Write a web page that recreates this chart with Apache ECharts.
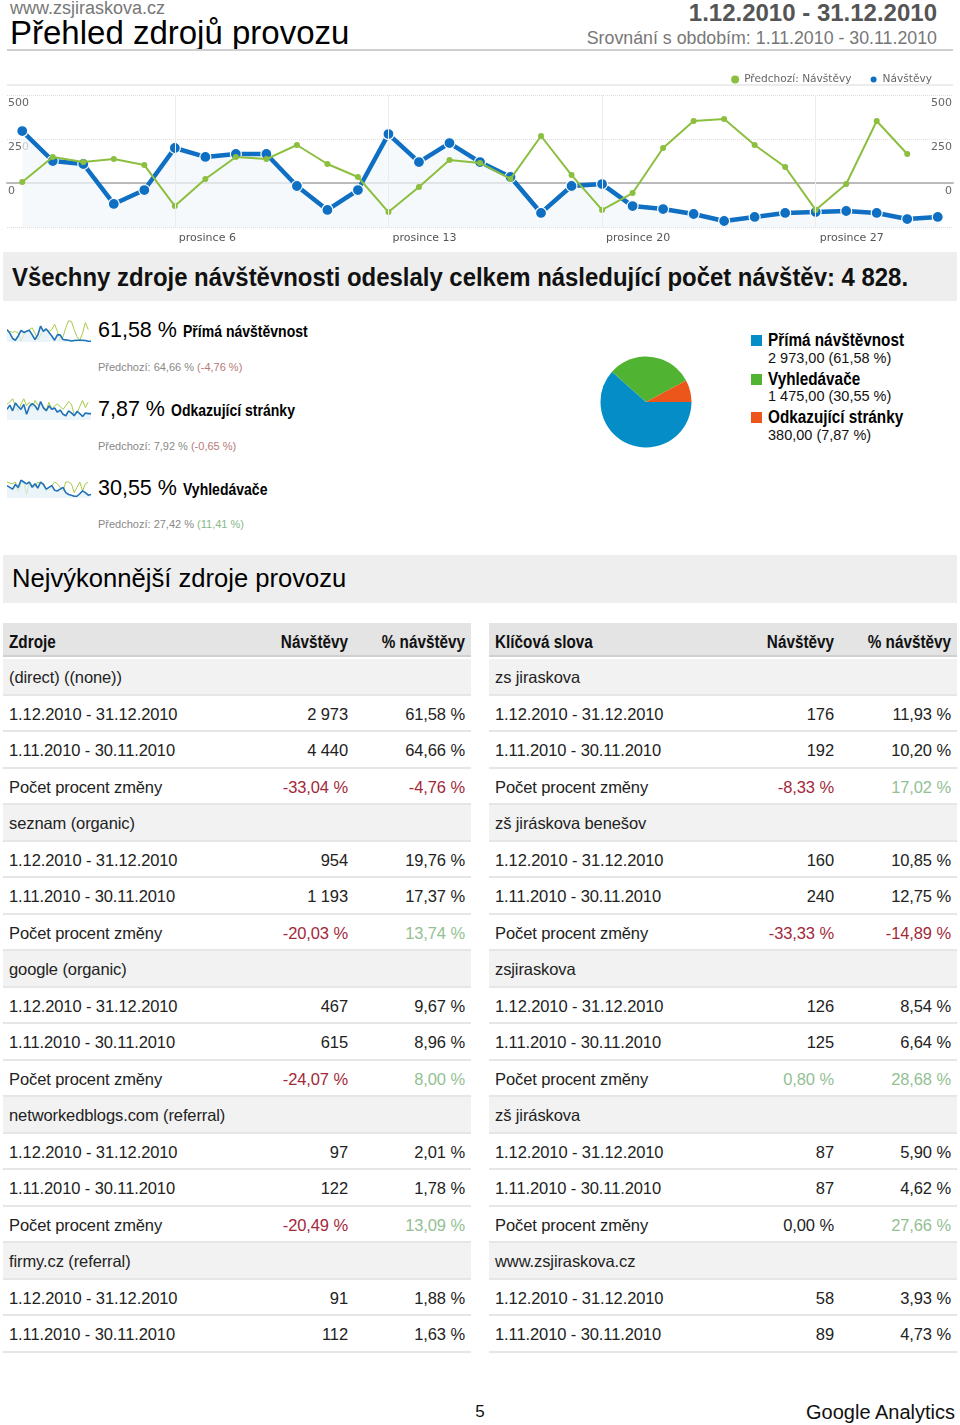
<!DOCTYPE html>
<html><head><meta charset="utf-8">
<script src="https://cdn.jsdelivr.net/npm/echarts/dist/echarts.min.js"></script>
<style>
html,body{margin:0;padding:0;background:#fff;}
body{width:960px;height:1425px;position:relative;overflow:hidden;font-family:"Liberation Sans",Arial,sans-serif;color:#111;}
.a{position:absolute;white-space:nowrap;line-height:1;}
.nb{font-family:"Liberation Sans Narrow","Liberation Sans",sans-serif;font-weight:bold;display:inline-block;transform:scaleX(0.85);transform-origin:left center;}
.nbr{transform-origin:right center;}
.prev{font-size:11px;color:#888;}
.neg{color:#a3283a;}
.pos{color:#93bf93;}
.tbl{position:absolute;}
.row{position:absolute;left:0;right:0;height:36.5px;line-height:36.5px;font-size:16.5px;letter-spacing:-0.1px;color:#222;box-sizing:border-box;border-bottom:2px solid #e6e6e6;}
.row.grp{background:#f2f2f2;}
.row.hdr{background:#e4e4e4;height:34px;line-height:38px;font-size:18px;letter-spacing:0;color:#111;border-bottom:2px solid #d0d0d0;}
.c{position:absolute;top:0;}
</style></head>
<body>
<div class="a" style="left:10px;top:-0.4px;font-size:18px;line-height:16px;color:#777;">www.zsjiraskova.cz</div>
<div class="a" style="left:10px;top:18.4px;font-size:33px;line-height:30px;color:#000;">Přehled zdrojů provozu</div>
<div class="a" style="right:23px;top:1px;font-size:24px;font-weight:bold;color:#555;">1.12.2010 - 31.12.2010</div>
<div class="a" style="right:23px;top:30px;font-size:17.8px;color:#777;">Srovnání s obdobím: 1.11.2010 - 30.11.2010</div>
<div class="a" style="left:7px;top:49px;width:946px;height:2px;background:#cfcfcf;"></div>

<div id="main" class="a" style="left:0;top:60px;width:960px;height:190px;"></div>

<div class="a" style="left:3px;top:252px;width:954px;height:49px;background:#eeeeee;"></div>
<div class="a" style="left:12px;top:264px;font-size:26px;font-weight:bold;transform:scaleX(0.92);transform-origin:left center;">Všechny zdroje návštěvnosti odeslaly celkem následující počet návštěv: 4 828.</div>

<div id="sp0" class="a" style="left:7px;top:319px;width:84px;height:24px;"></div>
<div id="sp1" class="a" style="left:7px;top:397px;width:84px;height:24px;"></div>
<div id="sp2" class="a" style="left:7px;top:475px;width:84px;height:24px;"></div>
<div id="kpis"></div>

<div id="pie" class="a" style="left:598px;top:354px;width:96px;height:96px;"></div>
<div id="pieLegend"></div>

<div class="a" style="left:3px;top:555px;width:954px;height:48px;background:#eeeeee;"></div>
<div class="a" style="left:12px;top:566px;font-size:25.6px;color:#000;">Nejvýkonnější zdroje provozu</div>

<div id="tL" class="tbl" style="left:3px;top:623px;width:468px;"></div>
<div id="tR" class="tbl" style="left:489px;top:623px;width:468px;"></div>

<div class="a" style="left:470px;top:1403px;width:20px;text-align:center;font-size:17px;color:#111;">5</div>
<div class="a" style="right:5px;top:1401.5px;font-size:20px;color:#111;">Google Analytics</div>

<script>
// ---------- main line chart data ----------
const days = ['prosince 1','prosince 2','prosince 3','prosince 4','prosince 5','prosince 6','prosince 7','prosince 8','prosince 9','prosince 10','prosince 11','prosince 12','prosince 13','prosince 14','prosince 15','prosince 16','prosince 17','prosince 18','prosince 19','prosince 20','prosince 21','prosince 22','prosince 23','prosince 24','prosince 25','prosince 26','prosince 27','prosince 28','prosince 29','prosince 30','prosince 31'];
const tickDays = ['prosince 6','prosince 13','prosince 20','prosince 27'];
const yTicks = [0, 250, 500];
const visits = [295,125,108,-119,-40,199,148,165,165,-17,-153,-40,278,119,227,119,34,-170,-17,-6,-131,-148,-176,-216,-193,-170,-165,-159,-170,-205,-193];
const prevVisits = [6,148,119,136,102,-131,23,148,136,216,108,34,-165,-23,131,114,23,267,45,-153,-57,199,352,364,216,91,-153,-6,352,165];

// ---------- sparklines ----------
const sparkNames = ['Přímá návštěvnost','Odkazující stránky','Vyhledávače'];
const sparkShare = ['61,58 %','7,87 %','30,55 %'];
const sparkPrev = ['64,66 %','7,92 %','27,42 %'];
const sparkChange = ['(-4,76 %)','(-0,65 %)','(11,41 %)'];
const sparkCur = [
  [35,25,10,5,17,33,27,30,33,20,7,20,45,30,37,27,17,5,20,20,7,6,5,3,4,5,5,5,4,2,2],
  [30,42,26,48,38,30,44,16,38,46,40,28,52,34,26,40,30,34,22,28,16,12,26,20,12,24,18,10,20,18,18],
  [35,30,25,38,30,50,45,40,45,30,40,28,45,38,25,30,35,22,20,25,30,15,10,8,5,5,12,20,15,8,10]
];
const sparkPrevData = [
  [30,30,27,30,25,3,20,30,35,40,25,7,20,30,37,30,35,50,30,5,15,40,60,58,35,15,5,25,55,35],
  [45,50,60,40,25,45,60,40,50,35,55,42,45,38,28,50,30,40,45,38,30,40,52,45,15,20,38,55,35,50],
  [45,42,40,45,20,40,45,10,45,35,30,45,40,42,20,30,35,45,40,30,20,45,45,40,15,30,45,20,40,45]
];

// ---------- pie ----------
const pieNames = ['Přímá návštěvnost','Vyhledávače','Odkazující stránky'];
const pieValues = [2973, 1475, 380];
const pieLabels = ['2 973,00 (61,58 %)','1 475,00 (30,55 %)','380,00 (7,87 %)'];
const pieColors = ['#058dc7','#50b432','#ed561b'];

// ---------- tables ----------
const periodLabels = ['1.12.2010 - 31.12.2010','1.11.2010 - 30.11.2010','Počet procent změny'];
const leftGroups = ['(direct) ((none))','seznam (organic)','google (organic)','networkedblogs.com (referral)','firmy.cz (referral)'];
const leftCurVisits = ['2 973','954','467','97','91'];
const leftCurPct = ['61,58 %','19,76 %','9,67 %','2,01 %','1,88 %'];
const leftPrevVisits = ['4 440','1 193','615','122','112'];
const leftPrevPct = ['64,66 %','17,37 %','8,96 %','1,78 %','1,63 %'];
const leftChgVisits = ['-33,04 %','-20,03 %','-24,07 %','-20,49 %',null];
const leftChgPct = ['-4,76 %','13,74 %','8,00 %','13,09 %',null];
const rightGroups = ['zs jiraskova','zš jiráskova benešov','zsjiraskova','zš jiráskova','www.zsjiraskova.cz'];
const rightCurVisits = ['176','160','126','87','58'];
const rightCurPct = ['11,93 %','10,85 %','8,54 %','5,90 %','3,93 %'];
const rightPrevVisits = ['192','240','125','87','89'];
const rightPrevPct = ['10,20 %','12,75 %','6,64 %','4,62 %','4,73 %'];
const rightChgVisits = ['-8,33 %','-33,33 %','0,80 %','0,00 %',null];
const rightChgPct = ['17,02 %','-14,89 %','28,68 %','27,66 %',null];

// ===== main chart =====
const tickFn = (i, v) => tickDays.indexOf(days[i]) >= 0;
const yLabel = v => yTicks.indexOf(v) >= 0 ? String(v) : '';
const main = echarts.init(document.getElementById('main'), null, {renderer:'canvas'});
main.setOption({
  animation:false,
  textStyle:{fontFamily:'DejaVu Sans'},
  legend:{right:23, top:9, itemWidth:8, itemHeight:8, itemGap:17, icon:'circle',
    data:['Předchozí: Návštěvy','Návštěvy'],
    textStyle:{fontSize:10.6,color:'#666',fontFamily:'DejaVu Sans'}},
  graphic:[{type:'line', silent:true, shape:{x1:7,y1:25,x2:953,y2:25}, style:{stroke:'#e6e6e6',lineWidth:1.5}}],
  grid:{left:7,right:7,top:35,bottom:23},
  xAxis:{type:'category', data:days, boundaryGap:true,
    axisLine:{lineStyle:{color:'#bbbbbb',width:2}},
    axisTick:{alignWithLabel:true, interval:tickFn, length:10, lineStyle:{color:'#cccccc'}},
    axisLabel:{interval:tickFn, align:'left', padding:[0,0,0,4], margin:6, fontSize:11, color:'#555', fontFamily:'DejaVu Sans'},
    splitLine:{show:false}},
  yAxis:[
    {type:'value', min:-250, max:500, interval:250, position:'left',
     axisLine:{show:false}, axisTick:{show:false},
     axisLabel:{inside:true, margin:1, verticalAlign:'top', padding:[3,0,0,0], fontSize:11, color:'#666', formatter:yLabel, fontFamily:'DejaVu Sans'},
     splitLine:{lineStyle:{type:'dotted', color:'#dddddd'}}},
    {type:'value', min:-250, max:500, interval:250, position:'right',
     axisLine:{show:false}, axisTick:{show:false},
     axisLabel:{inside:true, margin:1, verticalAlign:'top', padding:[3,0,0,0], fontSize:11, color:'#666', formatter:yLabel, fontFamily:'DejaVu Sans'},
     splitLine:{show:false}}
  ],
  series:[
    {name:'Návštěvy', type:'line', data:visits, z:3,
     lineStyle:{color:'#0f6fc2', width:4.5}, itemStyle:{color:'#0f6fc2', borderColor:'#fff', borderWidth:1.2},
     symbol:'circle', symbolSize:11, showAllSymbol:true,
     areaStyle:{color:'#f2f7fa', origin:'start'}},
    {name:'Předchozí: Návštěvy', type:'line', data:prevVisits, z:4,
     lineStyle:{color:'#8cbf3f', width:2}, itemStyle:{color:'#8cbf3f'},
     symbol:'circle', symbolSize:6, showAllSymbol:true,
     markLine:{silent:true, symbol:'none', label:{show:false}, lineStyle:{color:'#ececec', type:'solid', width:1},
       data: tickDays.map(d => ({xAxis:d}))}}
  ]
});

// ===== sparklines =====
for (let k = 0; k < 3; k++) {
  const c = echarts.init(document.getElementById('sp' + k));
  c.setOption({
    animation:false,
    grid:{left:0,right:0,top:1,bottom:1},
    xAxis:{type:'category', data:days, boundaryGap:false, show:false},
    yAxis:{type:'value', min:0, max:62, show:false},
    series:[
      {type:'line', data:sparkCur[k], symbol:'none', lineStyle:{color:'#1f72b8', width:1.6}, areaStyle:{color:'#e3eff7', origin:'start'}, z:3},
      {type:'line', data:sparkPrevData[k], symbol:'none', lineStyle:{color:'#a8c94a', width:1}, z:2}
    ]
  });
}
const kpiTop = [{big:319.8, prev:361.5}, {big:398.8, prev:440.5}, {big:477.8, prev:518.5}];
let kh = '';
for (let k = 0; k < 3; k++) {
  const chgCls = sparkChange[k].indexOf('-') >= 0 ? 'color:#b87878' : 'color:#86b886';
  kh += `<div class="a" style="left:98px;top:${kpiTop[k].big}px;font-size:21.5px;color:#000;">${sparkShare[k]}<span class="nb" style="font-size:16.5px;margin-left:6px;">${sparkNames[k]}</span></div>`;
  kh += `<div class="a prev" style="left:98px;top:${kpiTop[k].prev}px;">Předchozí: ${sparkPrev[k]} <span style="${chgCls}">${sparkChange[k]}</span></div>`;
}
document.getElementById('kpis').innerHTML = kh;

// ===== pie =====
const pie = echarts.init(document.getElementById('pie'));
pie.setOption({
  animation:false,
  series:[{type:'pie', center:['50%','50%'], radius:45.5, startAngle:0, clockwise:true,
    label:{show:false}, labelLine:{show:false}, silent:true,
    data: pieNames.map((n,i) => ({name:n, value:pieValues[i], itemStyle:{color:pieColors[i]}}))}]
});
let ph = '';
for (let i = 0; i < 3; i++) {
  const t = 335 + i * 38.5;
  ph += `<div class="a" style="left:751px;top:${t}px;width:11px;height:11px;background:${pieColors[i]};"></div>`;
  ph += `<div class="a" style="left:768px;top:${t - 4}px;"><span class="nb" style="font-size:18px;color:#000;">${pieNames[i]}</span></div>`;
  ph += `<div class="a" style="left:768px;top:${t + 15.5}px;font-size:14.5px;color:#111;">${pieLabels[i]}</div>`;
}
document.getElementById('pieLegend').innerHTML = ph;

// ===== tables =====
function cls(v){ if(!v) return ''; if(v.charAt(0)==='-') return 'neg'; if(/^0,00/.test(v)) return ''; return 'pos'; }
function buildTable(el, title, groups, cv, cp, pv, pp, chv, chp, numRight, pctRight) {
  let h = `<div class="row hdr" style="top:0;"><span class="c" style="left:6px;"><span class="nb">${title}</span></span><span class="c" style="right:${468-numRight}px;"><span class="nb nbr">Návštěvy</span></span><span class="c" style="right:${468-pctRight}px;"><span class="nb nbr">% návštěvy</span></span></div>`;
  let r = 0;
  const top0 = 36;
  const add = (label, a, b, grp, colored) => {
    const t = top0 + r * 36.5;
    h += `<div class="row${grp?' grp':''}" style="top:${t}px;"><span class="c" style="left:6px;">${label}</span>` +
      (a!==null ? `<span class="c ${colored?cls(a):''}" style="right:${468-numRight}px;">${a}</span>` : '') +
      (b!==null ? `<span class="c ${colored?cls(b):''}" style="right:${468-pctRight}px;">${b}</span>` : '') + `</div>`;
    r++;
  };
  for (let g = 0; g < groups.length; g++) {
    add(groups[g], null, null, true, false);
    add(periodLabels[0], cv[g], cp[g], false, false);
    add(periodLabels[1], pv[g], pp[g], false, false);
    if (chv[g] !== null) add(periodLabels[2], chv[g], chp[g], false, true);
  }
  el.innerHTML = h;
}
buildTable(document.getElementById('tL'), 'Zdroje', leftGroups, leftCurVisits, leftCurPct, leftPrevVisits, leftPrevPct, leftChgVisits, leftChgPct, 345, 462);
buildTable(document.getElementById('tR'), 'Klíčová slova', rightGroups, rightCurVisits, rightCurPct, rightPrevVisits, rightPrevPct, rightChgVisits, rightChgPct, 345, 462);
</script>
</body></html>
